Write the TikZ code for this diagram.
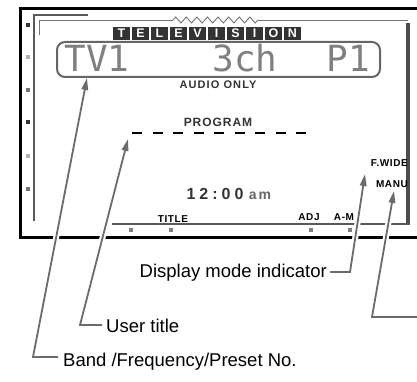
\documentclass[tikz,border=0pt]{standalone}
\usepackage{fontspec}
\setmainfont{Liberation Sans}
\newfontfamily\dotfont{DejaVu Sans Mono}
\usepackage{tikz}
\usetikzlibrary{positioning,arrows.meta,decorations.pathmorphing}

\begin{document}
\begin{tikzpicture}[
    x=1pt, y=-1pt,
    frame/.style={line width=3pt, black},
    trim/.style={line width=1.6pt, black!65},
    hair/.style={line width=0.9pt, black!55},
    pip/.style={rectangle, minimum size=4pt, inner sep=0pt},
    tvbox/.style={rectangle, fill=black!80, text=white, minimum width=16.5pt, minimum height=13pt, inner sep=0pt, font=\bfseries\fontsize{12.5}{12.5}\selectfont},
    lcd/.style={rectangle, draw=black!60, line width=2pt, rounded corners=8pt, inner sep=0pt},
    dots/.style={text=black!50, inner sep=0pt, anchor=base, font=\dotfont\fontsize{36}{36}\selectfont},
    tag/.style={inner sep=0pt, anchor=base, font=\bfseries\fontsize{10}{10}\selectfont\addfontfeature{LetterSpace=6}},
    note/.style={inner sep=0pt, font=\fontsize{18.5}{22}\selectfont},
    callout/.style={-{Triangle[length=12pt,width=6.5pt]}, line width=1.8pt, black!58, preaction={draw=white, line width=6pt, -, shorten >=14pt}}
]
\useasboundingbox (0,0) rectangle (417,382);

% Outer frame and trim
\draw[frame] (417,9) -- (20.5,9) -- (20.5,237) -- (417,237);
\draw[trim] (88,15) -- (34,15) -- (34,221);
\draw[hair] (39,35) -- (39,20) -- (173,20);
\draw[hair, decorate, decoration={zigzag, segment length=10.6pt, amplitude=3pt}] (173,20) -- (258,20);
\draw[hair] (258,20) -- (408,20);
\draw[line width=4pt, black!70] (408,23) -- (408,224);
\draw[trim] (112,224) -- (410,224);

% Indicator pips
\foreach \y/\c in {25/80,57/30,90/55,122/80,156/30,189/55}
    \node[pip, fill=black!\c] (pl\y) at (28,\y) {};
\foreach \x in {131,171,311,350}
    \node[pip, fill=black!50] (pb\x) at (\x,230) {};

% TELEVISION banner
\foreach \ch [count=\i] in {T,E,L,E,V,I,S,I,O,N}
    \node[tvbox] (tv\i) at ({121.5+19*(\i-1)},33.5) {\ch};

% Dot matrix window
\node[lcd, minimum width=323pt, minimum height=35pt] (lcd) at (218.5,59.5) {};
\node[dots] (band) at (97,72) {TV1};
\node[dots] (freq) at (245,72) {3ch};
\node[dots] (preset) at (348,72) {P1};

% Segment texts
\node[tag, text=black!80, font=\bfseries\fontsize{11}{11}\selectfont\addfontfeature{LetterSpace=10}] (audio) at (218,89) {AUDIO ONLY};
\node[tag, text=black!80, font=\bfseries\fontsize{12}{12}\selectfont\addfontfeature{LetterSpace=8}] (prog) at (218,127) {PROGRAM};
\draw[line width=2pt, dash pattern=on 10pt off 10.5pt] (132,133) -- (308,133);
\node[tag, text=black!80, font=\bfseries\fontsize{16}{16}\selectfont\addfontfeature{LetterSpace=25}] (clock) at (215,199) {12:00};
\node[tag, text=black!60, font=\bfseries\fontsize{14}{14}\selectfont\addfontfeature{LetterSpace=15}, base right=5pt of clock] (ampm) {am};
\node[tag] (title) at (173,222) {TITLE};
\node[tag] (adj) at (309,220) {ADJ};
\node[tag] (am) at (344,220) {A-M};
\node[tag, anchor=base east] (wide) at (408,166) {F.WIDE};
\node[tag, anchor=base east] (manu) at (408,187) {MANU};

% Callouts
\node[note, anchor=base west] (bandnote) at (63,366) {Band /Frequency/Preset No.};
\node[note, anchor=base west] (usernote) at (106,332) {User title};
\node[note, anchor=base east] (dispnote) at (327,277) {Display mode indicator};
\coordinate (bandknee) at (33,357);
\coordinate (bandtip) at (87,78);
\coordinate (userknee) at (80,325);
\coordinate (usertip) at (128,139);
\coordinate (dispknee) at (350,272);
\coordinate (disptip) at (365,174);
\coordinate (manuend) at (417,317);
\coordinate (manuknee) at (372,317);
\coordinate (manutip) at (394,191);

\draw[callout] ([xshift=-5pt]bandnote.west |- bandknee) -- (bandknee) -- (bandtip);
\draw[callout] ([xshift=-4pt]usernote.west |- userknee) -- (userknee) -- (usertip);
\draw[callout] ([xshift=3pt]dispnote.east |- dispknee) -- (dispknee) -- (disptip);
\draw[callout] (manuend) -- (manuknee) -- (manutip);
\end{tikzpicture}
\end{document}
